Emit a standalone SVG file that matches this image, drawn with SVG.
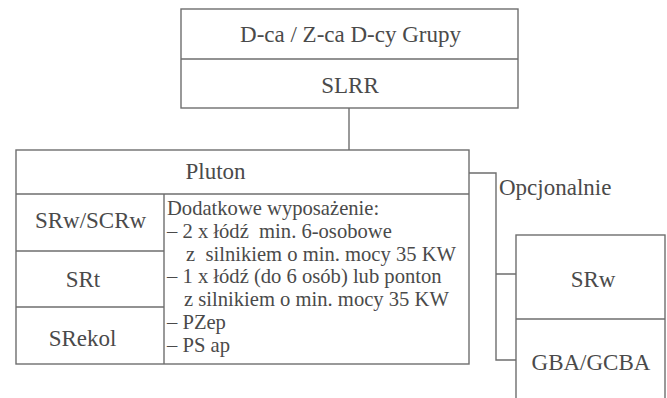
<svg xmlns="http://www.w3.org/2000/svg" width="667" height="398" viewBox="0 0 667 398">
<style>
.box{fill:#fff;stroke:#6e6e6e;stroke-width:1.4}
.ln{fill:none;stroke:#6e6e6e;stroke-width:1.4}
.t{font-family:'Liberation Serif','Times New Roman',Tinos,'DejaVu Serif',serif;fill:#4a4a4a}
.big{font-size:23px}
.mid{text-anchor:middle}
.det{font-size:20.6px;white-space:pre}
</style>
<rect width="667" height="398" fill="#fff"/>
<g id="connectors">
<path class="ln" d="M349,108 V150"/>
<path class="ln" d="M469,173 H496 V360 H516 M496,274 H516"/>
</g>
<g id="grupa">
<rect class="box" x="181" y="9" width="337" height="99"/>
<line class="ln" x1="181" y1="59" x2="518" y2="59"/>
<text class="t big mid" font-family="Liberation Serif, serif" x="350.5" y="42">D-ca / Z-ca D-cy Grupy</text>
<text class="t big mid" font-family="Liberation Serif, serif" x="350" y="93">SLRR</text>
</g>
<g id="pluton">
<rect class="box" x="16" y="150" width="453" height="214"/>
<line class="ln" x1="16" y1="194" x2="469" y2="194"/>
<line class="ln" x1="164" y1="194" x2="164" y2="364"/>
<line class="ln" x1="16" y1="251" x2="164" y2="251"/>
<line class="ln" x1="16" y1="307" x2="164" y2="307"/>
<text class="t big mid" x="215.5" y="179">Pluton</text>
<text class="t big mid" x="90.5" y="228">SRw/SCRw</text>
<text class="t big mid" x="83" y="287">SRt</text>
<text class="t big mid" x="82.5" y="346">SRekol</text>
<text class="t det" x="167" y="215">Dodatkowe wyposażenie:</text>
<text class="t det" x="167" y="238">– 2 x łódź  min. 6-osobowe</text>
<text class="t det" x="186" y="261">z  silnikiem o min. mocy 35 KW</text>
<text class="t det" x="167" y="283">– 1 x łódź (do 6 osób) lub ponton</text>
<text class="t det" x="184" y="306">z silnikiem o min. mocy 35 KW</text>
<text class="t det" x="167" y="329">– PZep</text>
<text class="t det" x="167" y="352">– PS ap</text>
</g>
<g id="opcjonalnie">
<text class="t big" x="499" y="195">Opcjonalnie</text>
</g>
<g id="opcja">
<rect class="box" x="516" y="235" width="149" height="175"/>
<line class="ln" x1="516" y1="319" x2="665" y2="319"/>
<text class="t big mid" x="593" y="287">SRw</text>
<text class="t big mid" x="591" y="370">GBA/GCBA</text>
</g>
</svg>
